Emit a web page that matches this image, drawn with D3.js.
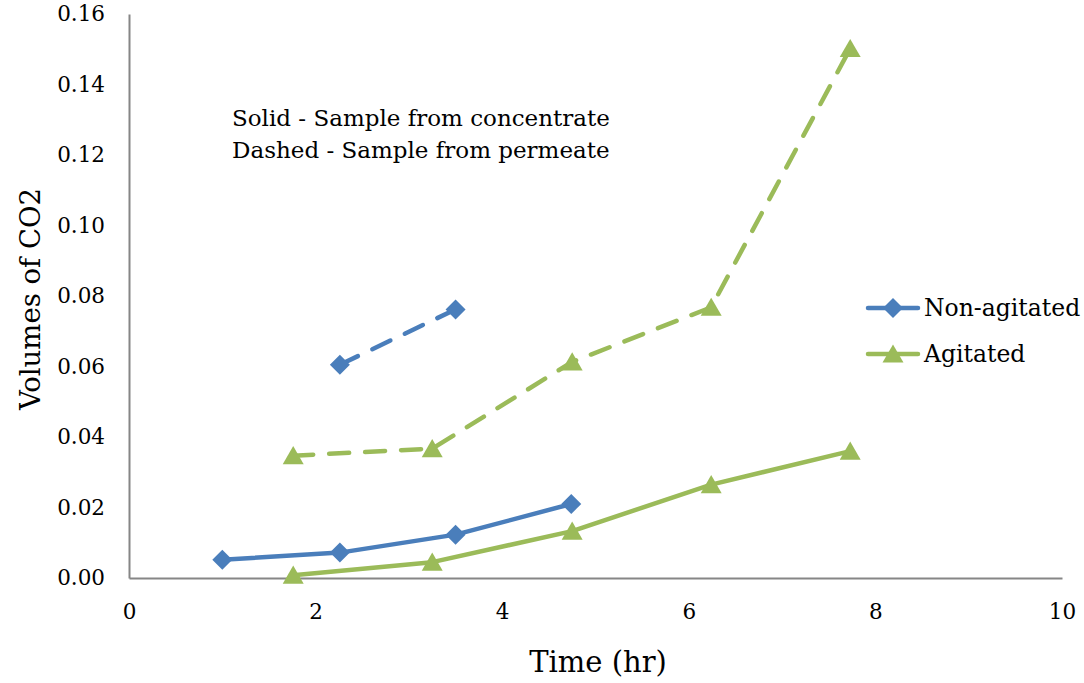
<!DOCTYPE html>
<html>
<head>
<meta charset="utf-8">
<script src="https://cdn.jsdelivr.net/npm/d3@7"></script>
<style>
  body { margin: 0; background: #fff; }
  text { font-family: "DejaVu Serif", "Liberation Serif", serif; fill: #000; }
</style>
</head>
<body>
<div id="chart"></div>
<script>
// data
const xTicks = [0, 2, 4, 6, 8, 10];
const yTicks = [0, 0.02, 0.04, 0.06, 0.08, 0.10, 0.12, 0.14, 0.16];

const nonAgitatedTime = [1.0, 2.26, 3.5, 4.74];
const nonAgitatedSolid = [0.0052, 0.0072, 0.0123, 0.0210];
const nonAgitatedDashedTime = [2.26, 3.5];
const nonAgitatedDashed = [0.0605, 0.0762];

const agitatedTime = [1.76, 3.25, 4.75, 6.24, 7.73];
const agitatedSolid = [0.0008, 0.0045, 0.0133, 0.0265, 0.0360];
const agitatedDashed = [0.0347, 0.0367, 0.0613, 0.0768, 0.1502];

const blue = '#4a7ebb';
const green = '#9bbb59';

const width = 1084, height = 683;
const margin = {top: 14, right: 22, bottom: 105, left: 129};
const innerW = width - margin.left - margin.right;
const innerH = height - margin.top - margin.bottom;

const svg = d3.select('#chart')
    .append('svg')
    .attr('width', width)
    .attr('height', height);

const g = svg.append('g')
    .attr('transform', `translate(${margin.left},${margin.top})`);

const x = d3.scaleLinear().domain([0, 10]).range([0, innerW]);
const y = d3.scaleLinear().domain([0, 0.16]).range([innerH, 0]);

// axes
const xAxis = d3.axisBottom(x).tickValues(xTicks).tickSize(0).tickPadding(26).tickFormat(d3.format('d'));
const yAxis = d3.axisLeft(y).tickValues(yTicks).tickSize(0).tickPadding(24).tickFormat(d3.format('.2f'));

g.append('g')
    .attr('transform', `translate(0,${innerH})`)
    .call(xAxis)
    .call(a => a.select('.domain').attr('stroke', '#868686').attr('stroke-width', 2))
    .selectAll('text').style('font-size', '21.5px').style('font-family', '"DejaVu Serif", serif');

g.append('g')
    .call(yAxis)
    .call(a => a.select('.domain').attr('stroke', '#868686').attr('stroke-width', 2))
    .selectAll('text').style('font-size', '21.5px').style('font-family', '"DejaVu Serif", serif');

// series
const line = d3.line().x(d => x(d[0])).y(d => y(d[1]));
const zip = (a, b) => a.map((v, i) => [v, b[i]]);

const series = [
  {pts: zip(nonAgitatedTime, nonAgitatedSolid), color: blue, dash: null, symbol: 'diamond'},
  {pts: zip(nonAgitatedDashedTime, nonAgitatedDashed), color: blue, dash: '20,16', symbol: 'diamond'},
  {pts: zip(agitatedTime, agitatedSolid), color: green, dash: null, symbol: 'triangle'},
  {pts: zip(agitatedTime, agitatedDashed), color: green, dash: '20,16', symbol: 'triangle'}
];

const diamond = d3.symbol().type(d3.symbolSquare).size(200);
const triangle = d3.symbol().type(d3.symbolTriangle).size(190);
// triangles centred on their box, like the spreadsheet markers
const markTf = (sym, px, py) => sym === 'diamond'
    ? `translate(${px},${py}) rotate(45)`
    : `translate(${px},${py + 2.5})`;

series.forEach(s => {
  g.append('path')
      .datum(s.pts)
      .attr('fill', 'none')
      .attr('stroke', s.color)
      .attr('stroke-width', 4.5)
      .attr('stroke-linecap', 'round')
      .attr('stroke-linejoin', 'round')
      .attr('stroke-dasharray', s.dash)
      .attr('d', line);

  g.selectAll(null)
      .data(s.pts)
      .enter()
      .append('path')
      .attr('fill', s.color)
      .attr('d', s.symbol === 'diamond' ? diamond() : triangle())
      .attr('transform', d => markTf(s.symbol, x(d[0]), y(d[1])));
});

// annotation
svg.append('text').attr('x', 232).attr('y', 126).style('font-size', '23px').text('Solid - Sample from concentrate');
svg.append('text').attr('x', 232).attr('y', 158).style('font-size', '23px').text('Dashed - Sample from permeate');

// legend
const legend = [
  {name: 'Non-agitated', color: blue, symbol: 'diamond', y: 308},
  {name: 'Agitated', color: green, symbol: 'triangle', y: 354}
];
legend.forEach(l => {
  svg.append('line')
      .attr('x1', 868).attr('x2', 918).attr('y1', l.y).attr('y2', l.y)
      .attr('stroke', l.color).attr('stroke-width', 4.5).attr('stroke-linecap', 'round');
  svg.append('path')
      .attr('fill', l.color)
      .attr('d', l.symbol === 'diamond' ? diamond() : triangle())
      .attr('transform', markTf(l.symbol, 893, l.y));
  svg.append('text')
      .attr('x', 924).attr('y', l.y + 8)
      .style('font-size', '23.5px')
      .text(l.name);
});

// axis titles
svg.append('text')
    .attr('transform', `translate(40,${margin.top + innerH / 2 + 3}) rotate(-90)`)
    .style('text-anchor', 'middle')
    .style('font-size', '27.5px')
    .text('Volumes of CO2');

svg.append('text')
    .attr('x', 598).attr('y', 672)
    .style('text-anchor', 'middle')
    .style('font-size', '29px')
    .text('Time (hr)');
</script>
</body>
</html>
